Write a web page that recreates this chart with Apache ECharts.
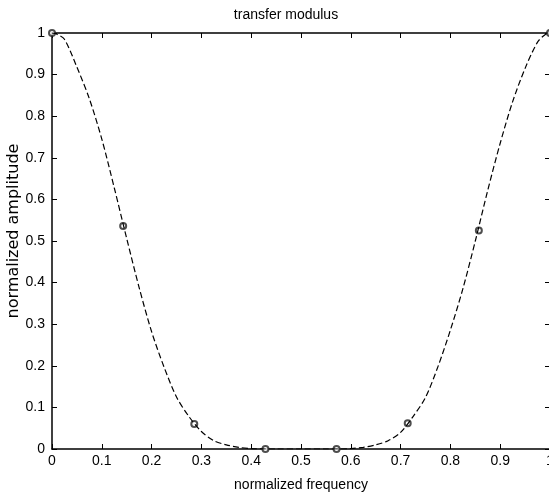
<!DOCTYPE html>
<html>
<head>
<meta charset="utf-8">
<script src="https://cdn.jsdelivr.net/npm/echarts@6/dist/echarts.min.js"></script>
<style>
html,body{margin:0;padding:0;background:#fff;}
#chart{width:549px;height:497px;}
</style>
</head>
<body>
<div id="chart"></div>
<script>
// curve: normalized frequency vs normalized amplitude
var freq = [0, 0.01, 0.025, 0.05, 0.075, 0.1, 0.125, 0.15, 0.175, 0.2, 0.225, 0.25, 0.275, 0.3, 0.325, 0.35, 0.375, 0.4, 0.425, 0.45, 0.5, 0.55, 0.575, 0.6, 0.625, 0.65, 0.675, 0.7, 0.725, 0.75, 0.775, 0.8, 0.825, 0.85, 0.875, 0.9, 0.925, 0.95, 0.975, 0.99, 1];
var amp  = [1.0, 0.997, 0.985, 0.918, 0.842, 0.745, 0.628, 0.506, 0.388, 0.282, 0.197, 0.125, 0.078, 0.042, 0.020, 0.010, 0.004, 0.001, 0, 0, 0, 0, 0, 0.001, 0.004, 0.010, 0.020, 0.040, 0.078, 0.124, 0.198, 0.286, 0.385, 0.50, 0.622, 0.735, 0.835, 0.915, 0.978, 0.996, 1.0];
// sample points (circles)
var sampleFreq = [0, 0.1429, 0.2857, 0.4286, 0.5714, 0.7143, 0.8571, 1];
var sampleAmp  = [1.0, 0.536, 0.06, 0, 0, 0.062, 0.525, 1.0];
var xTicks = [0, 0.1, 0.2, 0.3, 0.4, 0.5, 0.6, 0.7, 0.8, 0.9, 1];
var yTicks = [0, 0.1, 0.2, 0.3, 0.4, 0.5, 0.6, 0.7, 0.8, 0.9, 1];

var curve = freq.map(function (f, i) { return [f, amp[i]]; });
var samples = sampleFreq.map(function (f, i) { return [f, sampleAmp[i]]; });

var chart = echarts.init(document.getElementById('chart'), null, {renderer: 'canvas'});
var tickFont = {fontFamily: 'Liberation Sans', fontSize: 14, color: '#000'};
function fmt(v) { return String(Math.round(v * 10) / 10); }

chart.setOption({
  animation: false,
  backgroundColor: '#fff',
  grid: {left: 52, top: 33, width: 498, height: 416, containLabel: false, outerBoundsMode: 'none'},
  graphic: [
    {type: 'text', x: 286, y: 8, style: {text: 'transfer modulus', fontFamily: 'Liberation Sans', fontSize: 14, fill: '#000', textAlign: 'center', textVerticalAlign: 'top'}},
    {type: 'text', x: 6, y: 231, rotation: Math.PI / 2, style: {text: 'normalized amplitude', fontFamily: 'DejaVu Sans', fontSize: 16, fill: '#000', textAlign: 'center', textVerticalAlign: 'top'}}
  ],
  xAxis: [{
    type: 'value', min: 0, max: 1, interval: 0.1,
    name: 'normalized frequency', nameLocation: 'middle', nameGap: 29,
    nameTextStyle: {fontFamily: 'Liberation Sans', fontSize: 14, color: '#000'},
    axisLine: {show: true, onZero: false, lineStyle: {color: '#000', width: 1.5}},
    axisTick: {show: true, inside: true, length: 5, lineStyle: {color: '#000', width: 1}},
    axisLabel: Object.assign({margin: 5, formatter: fmt}, tickFont),
    splitLine: {show: false}
  }, {
    type: 'value', min: 0, max: 1, interval: 0.1, position: 'top',
    axisLine: {show: true, onZero: false, lineStyle: {color: '#000', width: 1.5}},
    axisTick: {show: true, inside: true, length: 5, lineStyle: {color: '#000', width: 1}},
    axisLabel: {show: false},
    splitLine: {show: false}
  }],
  yAxis: [{
    type: 'value', min: 0, max: 1, interval: 0.1,
    axisLine: {show: true, onZero: false, lineStyle: {color: '#000', width: 1.5}},
    axisTick: {show: true, inside: true, length: 5, lineStyle: {color: '#000', width: 1}},
    axisLabel: Object.assign({margin: 7, formatter: fmt}, tickFont),
    splitLine: {show: false}
  }, {
    type: 'value', min: 0, max: 1, interval: 0.1, position: 'right',
    axisLine: {show: true, onZero: false, lineStyle: {color: '#000', width: 1.5}},
    axisTick: {show: true, inside: true, length: 5, lineStyle: {color: '#000', width: 1}},
    axisLabel: {show: false},
    splitLine: {show: false}
  }],
  series: [{
    type: 'line', data: curve, xAxisIndex: 0, yAxisIndex: 0,
    smooth: 0.3, showSymbol: false, silent: true,
    lineStyle: {color: '#000', width: 1.2, type: [6, 3]}
  }, {
    type: 'scatter', data: samples, xAxisIndex: 0, yAxisIndex: 0,
    symbol: 'emptyCircle', symbolSize: 6, silent: true,
    itemStyle: {color: '#222', borderColor: '#222', borderWidth: 0.8}
  }]
});
</script>
</body>
</html>
